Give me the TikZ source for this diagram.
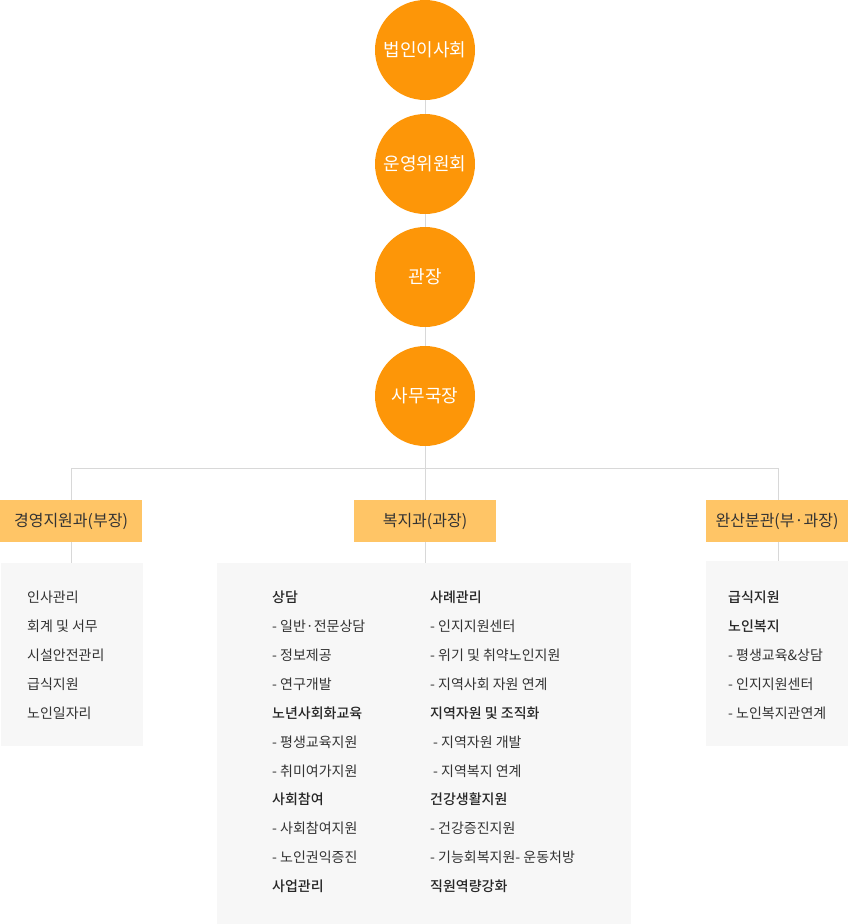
\documentclass[tikz,border=0pt]{standalone}
\usepackage{fontspec}
\newfontfamily\kr{Noto Sans CJK KR}
\newfontfamily\krb{Noto Sans CJK KR Medium}
\definecolor{orangec}{RGB}{253,150,8}
\definecolor{boxy}{RGB}{255,197,102}
\definecolor{panel}{RGB}{247,247,247}
\definecolor{linec}{RGB}{216,216,216}
\definecolor{txt}{RGB}{51,51,51}
\tikzset{
  circ/.style={circle, fill=orangec, minimum size=100pt, inner sep=0pt, text=white, font=\kr\fontsize{18}{21}\selectfont},
  dept/.style={fill=boxy, minimum width=142pt, minimum height=42pt, inner sep=0pt, text=txt, font=\kr\fontsize{16}{19}\selectfont},
  conn/.style={draw=linec, line width=1pt},
  item/.style={anchor=west, inner sep=0pt, text=txt, font=\kr\fontsize{14}{17}\selectfont},
  head/.style={anchor=west, inner sep=0pt, text=black!85, font=\krb\fontsize{14}{17}\selectfont}
}
\begin{document}
\begin{tikzpicture}[x=1pt,y=-1pt]
\useasboundingbox (0,0) rectangle (848,924);
% panels
\fill[panel] (1,563) rectangle (143,746);
\fill[panel] (217,563) rectangle (631,924);
\fill[panel] (706,561) rectangle (848,746);
% circles
\node[circ] (c1) at (425,50) {법인이사회};
\node[circ] (c2) at (425,164) {운영위원회};
\node[circ] (c3) at (425,277) {관장};
\node[circ] (c4) at (425,396) {사무국장};
% dept boxes
\node[dept] (d1) at (71,521) {경영지원과(부장)};
\node[dept] (d2) at (425,521) {복지과(과장)};
\node[dept] (d3) at (777,521) {완산분관(부·과장)};
% connectors
\coordinate (j) at (425,468);
\coordinate (jl) at (71,468);
\coordinate (jr) at (778,468);
\coordinate (p1) at (71,563);
\coordinate (p2) at (425,563);
\coordinate (p3) at (778,561);
\draw[conn] (c1.south) -- (c2.north);
\draw[conn] (c2.south) -- (c3.north);
\draw[conn] (c3.south) -- (c4.north);
\draw[conn] (c4.south) -- (j);
\draw[conn] (jl) -- (jr);
\draw[conn] (jl) -- (d1.north -| jl);
\draw[conn] (j) -- (d2.north);
\draw[conn] (jr) -- (d3.north -| jr);
\draw[conn] (d1.south -| jl) -- (p1);
\draw[conn] (d2.south) -- (p2);
\draw[conn] (d3.south -| jr) -- (p3);
% left list
\node[item] (l1) at (27,597) {인사관리};
\node[item] (l2) at (27,626) {회계 및 서무};
\node[item] (l3) at (27,655) {시설안전관리};
\node[item] (l4) at (27,684) {급식지원};
\node[item] (l5) at (27,713) {노인일자리};
% right list
\node[head] (r1) at (728,597) {급식지원};
\node[head] (r2) at (728,626) {노인복지};
\node[item] (r3) at (728,655) {- 평생교육\&상담};
\node[item] (r4) at (728,684) {- 인지지원센터};
\node[item] (r5) at (728,713) {- 노인복지관연계};
% middle col 1
\node[head] (a1) at (272,597) {상담};
\node[item] (a2) at (272,626) {- 일반·전문상담};
\node[item] (a3) at (272,655) {- 정보제공};
\node[item] (a4) at (272,684) {- 연구개발};
\node[head] (a5) at (272,713) {노년사회화교육};
\node[item] (a6) at (272,742) {- 평생교육지원};
\node[item] (a7) at (272,771) {- 취미여가지원};
\node[head] (a8) at (272,799) {사회참여};
\node[item] (a9) at (272,828) {- 사회참여지원};
\node[item] (a10) at (272,857) {- 노인권익증진};
\node[head] (a11) at (272,886) {사업관리};
% middle col 2
\node[head] (b1) at (430,597) {사례관리};
\node[item] (b2) at (430,626) {- 인지지원센터};
\node[item] (b3) at (430,655) {- 위기 및 취약노인지원};
\node[item] (b4) at (430,684) {- 지역사회 자원 연계};
\node[head] (b5) at (430,713) {지역자원 및 조직화};
\node[item] (b6) at (433,742) {- 지역자원 개발};
\node[item] (b7) at (433,771) {- 지역복지 연계};
\node[head] (b8) at (430,799) {건강생활지원};
\node[item] (b9) at (430,828) {- 건강증진지원};
\node[item] (b10) at (430,857) {- 기능회복지원- 운동처방};
\node[head] (b11) at (430,886) {직원역량강화};
\end{tikzpicture}
\end{document}
